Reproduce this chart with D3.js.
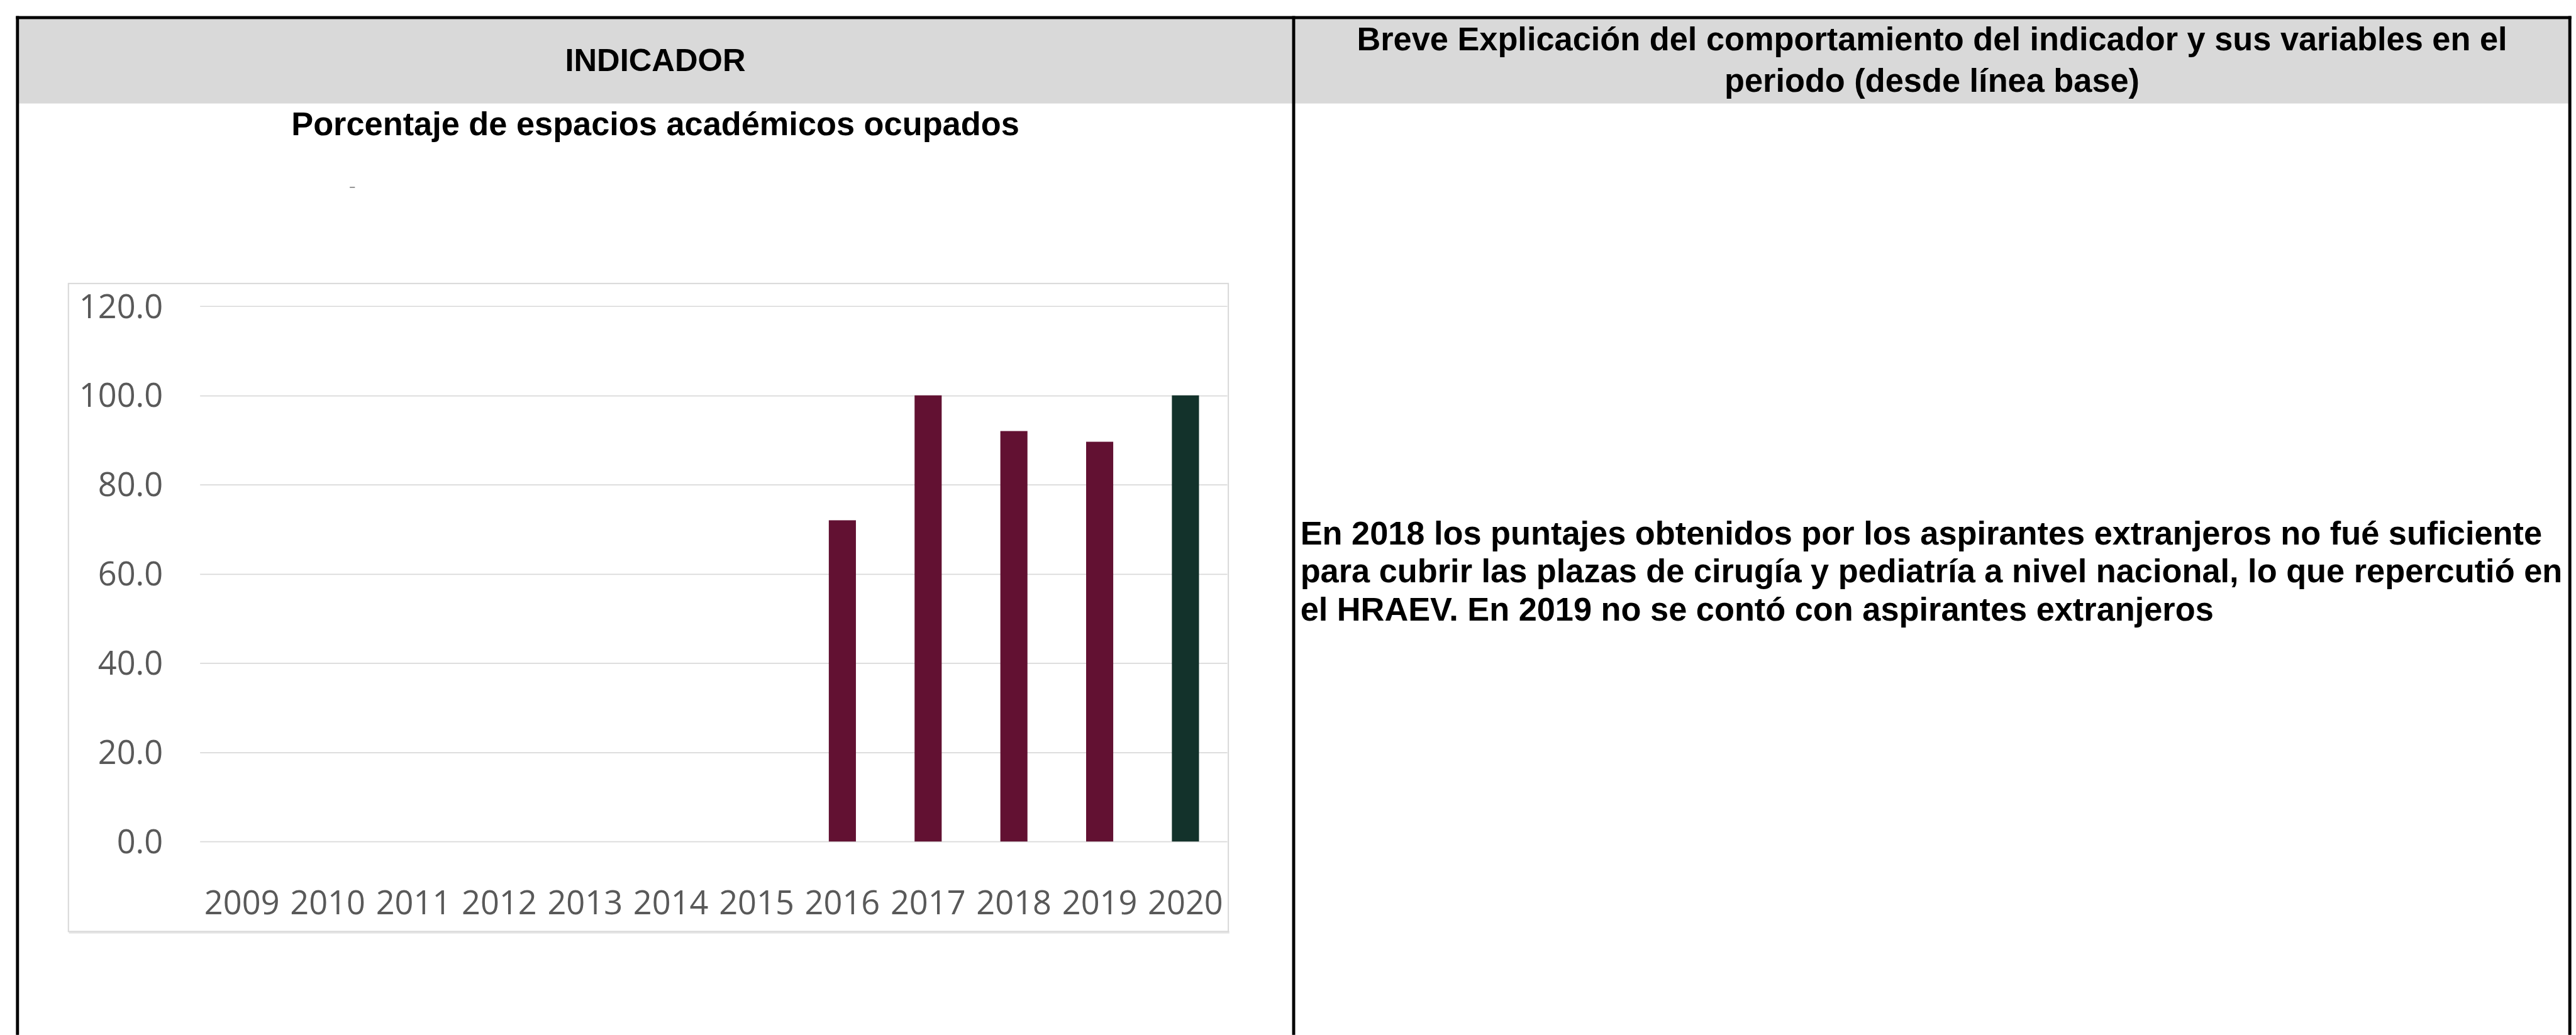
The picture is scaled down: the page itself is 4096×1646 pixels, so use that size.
<!DOCTYPE html>
<html>
<head>
<meta charset="utf-8">
<script src="https://cdn.jsdelivr.net/npm/d3@7"></script>
<style>
  html, body { margin: 0; padding: 0; background: #ffffff; overflow: hidden; }
  svg { display: block; }
</style>
</head>
<body>
<div id="chart"></div>
<script>
// ---- Data ----
const years = ["2009", "2010", "2011", "2012", "2013", "2014", "2015", "2016", "2017", "2018", "2019", "2020"];
const values = [null, null, null, null, null, null, null, 72.0, 100.0, 92.0, 89.6, 100.0];
const currentYear = "2020";
const yTicks = [0, 20, 40, 60, 80, 100, 120];

const headerLeft = "INDICADOR";
const headerRight = ["Breve Explicación del comportamiento del indicador y sus variables en el", "periodo (desde línea base)"];
const chartTitle = "Porcentaje de espacios académicos ocupados";
const explanation = [
  "En 2018 los puntajes obtenidos por los aspirantes extranjeros no fué suficiente",
  "para cubrir las plazas de cirugía y pediatría a nivel nacional, lo que repercutió en",
  "el HRAEV. En 2019 no se contó con aspirantes extranjeros"
];

// ---- Layout (reference coordinates, scaled by viewBox) ----
const W = 5008, H = 2012;
const boldFont = "'Liberation Sans', Arial, sans-serif";
const axisFont = "'Open Sans', 'Noto Sans', sans-serif";
const maroon = "#621132", green = "#13322b";

const svg = d3.select("#chart").append("svg")
  .attr("width", 4096).attr("height", 1646)
  .attr("viewBox", `0 0 ${W} ${H}`);

// header band
svg.append("rect").attr("x", 37).attr("y", 37).attr("width", 4993 - 37).attr("height", 201 - 37).attr("fill", "#d9d9d9");

// table borders
svg.append("rect").attr("x", 31).attr("y", 31).attr("width", 4999 - 31).attr("height", 6).attr("fill", "#000");
svg.append("rect").attr("x", 31).attr("y", 31).attr("width", 6).attr("height", H - 31).attr("fill", "#000");
svg.append("rect").attr("x", 2512).attr("y", 31).attr("width", 6).attr("height", H - 31).attr("fill", "#000");
svg.append("rect").attr("x", 4993).attr("y", 31).attr("width", 6).attr("height", H - 31).attr("fill", "#000");

// header texts
svg.append("text").attr("x", 1274).attr("y", 138).attr("text-anchor", "middle")
  .attr("font-family", boldFont).attr("font-weight", "bold").attr("font-size", 62).attr("fill", "#000")
  .text(headerLeft);
svg.append("g").selectAll("text").data(headerRight).join("text")
  .attr("x", 3756).attr("y", (d, i) => 98 + i * 80).attr("text-anchor", "middle")
  .attr("font-family", boldFont).attr("font-weight", "bold").attr("font-size", 64).attr("fill", "#000")
  .text(d => d);

// chart title
svg.append("text").attr("x", 1274).attr("y", 263).attr("text-anchor", "middle")
  .attr("font-family", boldFont).attr("font-weight", "bold").attr("font-size", 64).attr("fill", "#000")
  .text(chartTitle);

// tiny artifact dash
svg.append("rect").attr("x", 680).attr("y", 363).attr("width", 10).attr("height", 2).attr("fill", "#7f7f7f");

// explanation text
svg.append("g").selectAll("text").data(explanation).join("text")
  .attr("x", 2528).attr("y", (d, i) => 1058 + i * 74)
  .attr("font-family", boldFont).attr("font-weight", "bold").attr("font-size", 64).attr("fill", "#000")
  .text(d => d);

// chart box with shadow
svg.append("rect").attr("x", 134).attr("y", 1810).attr("width", 2256).attr("height", 5).attr("fill", "#e6e6e6");
svg.append("rect").attr("x", 133).attr("y", 551).attr("width", 2255).attr("height", 1260)
  .attr("fill", "#fff").attr("stroke", "#d9d9d9").attr("stroke-width", 2.5);

// scales
const x = d3.scaleBand().domain(years).range([387, 2388]).paddingInner(0.684).paddingOuter(0.342);
const y = d3.scaleLinear().domain([0, 120]).range([1636, 595]);

// gridlines
svg.append("g").selectAll("line").data(yTicks).join("line")
  .attr("x1", 389).attr("x2", 2386)
  .attr("y1", d => Math.round(y(d)) + 0.5).attr("y2", d => Math.round(y(d)) + 0.5)
  .attr("stroke", "#d9d9d9").attr("stroke-width", 2);

// y axis
const yAxis = svg.append("g").attr("transform", "translate(317,0)")
  .call(d3.axisLeft(y).tickValues(yTicks).tickFormat(d3.format(".1f")).tickSize(0).tickPadding(0));
yAxis.select(".domain").remove();
yAxis.selectAll("text").attr("font-family", axisFont).attr("font-size", 64).attr("fill", "#595959")
  .attr("dy", "0.35em");

// x axis
const xAxis = svg.append("g").attr("transform", "translate(0,1636)")
  .call(d3.axisBottom(x).tickSize(0).tickPadding(0));
xAxis.select(".domain").remove();
xAxis.selectAll("text").attr("font-family", axisFont).attr("font-size", 64).attr("fill", "#595959")
  .attr("y", 141).attr("dy", 0);

// bars
const data = years.map((yr, i) => ({ year: yr, value: values[i] })).filter(d => d.value != null);
svg.append("g").selectAll("rect").data(data).join("rect")
  .attr("x", d => x(d.year)).attr("width", x.bandwidth())
  .attr("y", d => y(d.value)).attr("height", d => y(0) - y(d.value))
  .attr("fill", d => d.year === currentYear ? green : maroon);
</script>
</body>
</html>
